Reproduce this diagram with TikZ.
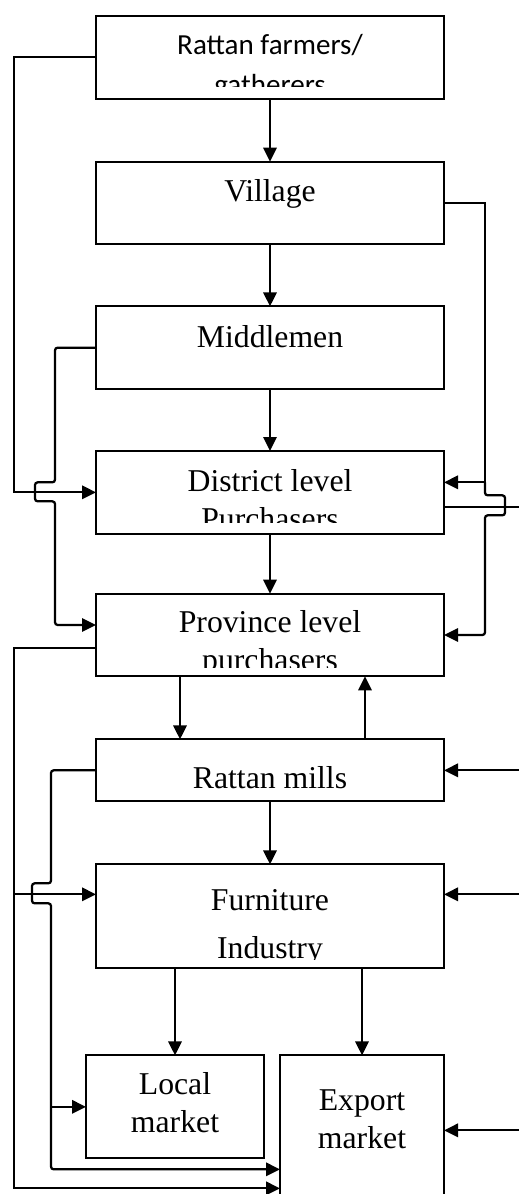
\documentclass[tikz,border=0pt]{standalone}
\usepackage{fontspec}
\setmainfont{Liberation Serif}
\newfontfamily\boxsans{Carlito}
\usetikzlibrary{arrows.meta, positioning, calc}
\definecolor{rtink}{HTML}{000000}
\definecolor{rtpaper}{HTML}{FFFFFF}
\tikzset{
  stage/.style={rectangle, draw=rtink, line width=1.7pt, outer sep=0pt, inner sep=0pt,
              minimum width=261pt, minimum height=62pt},
  stagetxt/.style={font=\fontsize{23.8}{28.5}\selectfont, text=rtink, align=center,
              inner sep=0pt, anchor=base},
  flow/.style={-{Triangle[length=10.5pt, width=10pt]}, draw=rtink, line width=1.7pt},
  link/.style={draw=rtink, line width=1.7pt},
  hop/.style={rounded corners=2pt},
}

\begin{document}
\begin{tikzpicture}[node distance=46.5pt]
      \useasboundingbox[fill=rtpaper] (0,0) rectangle (388.5pt,-895.5pt);
      \coordinate (edge) at (390pt,0);
      % supply chain column
      \node[stage, anchor=north] (farm) at (202.5pt,-12pt) {};
      \node[stage, below=47.25pt of farm] (vill) {};
      \node[stage, below=of vill] (midd) {};
      \node[stage, below=of midd] (dist) {};
      \node[stage, below=45pt of dist] (prov) {};
      \node[stage, below=47.25pt of prov, minimum height=46.5pt] (mill) {};
      \node[stage, below=47.25pt of mill, minimum height=78pt] (furn) {};
      \node[stage, below right=65.25pt and -7.5pt of furn.south west,
            minimum width=133.5pt, minimum height=77.25pt] (local) {};
      \node[stage, below left=65.25pt and 0pt of furn.south east,
            minimum width=123pt, minimum height=142.5pt] (exp) {};
      % box texts (base = last line)
      \node[stagetxt] (vill-t) at ([yshift=-30pt]vill.north) {Village};
      \node[stagetxt] (midd-t) at ([yshift=-30.75pt]midd.north) {Middlemen};
      \node[stagetxt] (mill-t) at ([yshift=-36.75pt]mill.north) {Rattan mills};
      \node[stagetxt] (local-t) at ([yshift=-57.75pt]local.north) {Local\\market};
      \node[stagetxt] (exp-t) at ([yshift=-69.75pt]exp.north) {Export\\market};
      \begin{scope}
        \clip (farm.north west) rectangle ([yshift=9pt]farm.south east);
        \node[stagetxt, font=\boxsans\fontsize{21.8}{30}\selectfont] (farm-t)
          at ([yshift=-59.25pt]farm.north) {Rattan farmers/\\gatherers};
      \end{scope}
      \begin{scope}
        \clip (dist.north west) rectangle ([yshift=8.25pt]dist.south east);
        \node[stagetxt] (dist-t) at ([yshift=-58.5pt]dist.north) {District level\\Purchasers};
      \end{scope}
      \begin{scope}
        \clip (prov.north west) rectangle ([yshift=6.75pt]prov.south east);
        \node[stagetxt] (prov-t) at ([yshift=-57.75pt]prov.north) {Province level\\purchasers};
      \end{scope}
      \begin{scope}
        \clip (furn.north west) rectangle ([yshift=6.75pt]furn.south east);
        \node[stagetxt, font=\fontsize{23.8}{36}\selectfont] (furn-t)
          at ([yshift=-70.5pt]furn.north) {Furniture\\Industry};
      \end{scope}
      % main flow
      \draw[flow] (farm) -- (vill);
      \draw[flow] (vill) -- (midd);
      \draw[flow] (midd) -- (dist);
      \draw[flow] (dist) -- (prov);
      \draw[flow] ([xshift=-67.5pt]prov.south) -- ([xshift=-67.5pt]mill.north);
      \draw[flow] ([xshift=71.25pt]mill.north) -- ([xshift=71.25pt]prov.south);
      \draw[flow] (mill) -- (furn);
      \draw[flow] (furn.south -| local.north) -- (local.north);
      \draw[flow] (furn.south -| exp.north) -- (exp.north);
      % left side bypasses
      \draw[flow] (farm.west) -- ++(-61.5pt,0) coordinate (lbus) |- (dist.west);
      \draw[flow, hop] (midd.west) -- ++(-30.75pt,0) coordinate (mbus)
        -- ([yshift=7.5pt]dist.west -| mbus) -- ++(-15pt,0) -- ++(0,-14.25pt) -- ++(15pt,0)
        |- ([yshift=7.5pt]prov.west);
      \draw[flow] ([yshift=-9.75pt]prov.west) -- ++(-61.5pt,0) |- ([yshift=-99.75pt]exp.north west);
      \draw[flow] ([yshift=-22.5pt]furn.north west -| lbus) -- ([yshift=-22.5pt]furn.north west);
      \draw[flow, hop] (mill.west) -- ++(-33.75pt,0) coordinate (sbus)
        -- ([yshift=-14.25pt]furn.north west -| sbus) -- ++(-14.25pt,0) -- ++(0,-15pt) -- ++(14.25pt,0)
        |- ([yshift=-85.5pt]exp.north west);
      \draw[flow] (local.west -| sbus) -- (local.west);
      % right side bypasses and outside inputs
      \draw[flow] (vill.east) -- ++(30.75pt,0) coordinate (rbus) |- ([yshift=7.5pt]dist.east);
      \draw[flow, hop] ([yshift=7.5pt]dist.east -| rbus) -- ([yshift=-2.25pt]dist.east -| rbus)
        -- ++(15pt,0) -- ++(0,-15pt) -- ++(-15pt,0) |- (prov.east);
      \draw[link] ([yshift=-11.25pt]dist.east) -- ([yshift=-11.25pt]dist.east -| edge);
      \draw[flow] (mill.east -| edge) -- (mill.east);
      \draw[flow] ([yshift=-22.5pt]furn.north east -| edge) -- ([yshift=-22.5pt]furn.north east);
      \draw[flow] ([yshift=-56.25pt]exp.north east -| edge) -- ([yshift=-56.25pt]exp.north east);
    \end{tikzpicture}
\end{document}
